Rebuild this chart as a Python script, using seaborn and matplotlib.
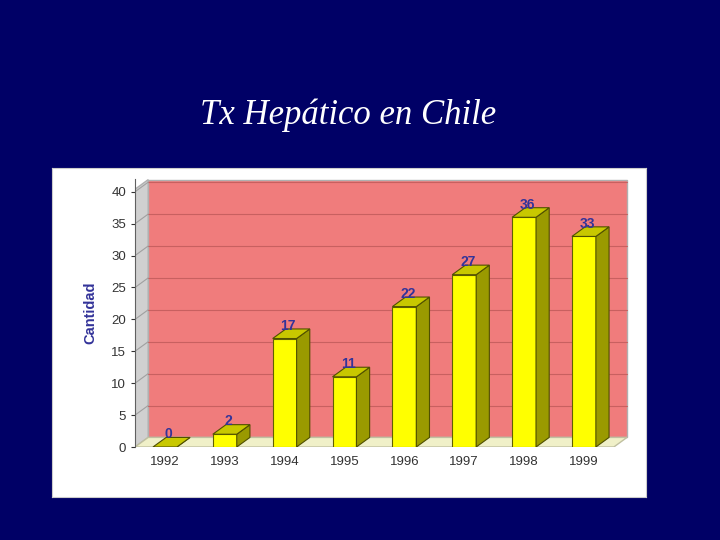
import matplotlib
matplotlib.use("Agg")
import matplotlib.pyplot as plt
import seaborn as sns
import pandas as pd
from matplotlib.patches import Polygon

years = ["1992", "1993", "1994", "1995", "1996", "1997", "1998", "1999"]
values = [0, 2, 17, 11, 22, 27, 36, 33]
yticks = [0, 5, 10, 15, 20, 25, 30, 35, 40]

sns.set_style("white")
plt.rcParams['font.family'] = ['Liberation Sans', 'DejaVu Sans']

fig = plt.figure(figsize=(7.2, 5.4), dpi=100)
fig.patch.set_facecolor("#000066")
fig.text(348/720, 1 - 115/540, "Tx Hepático en Chile", ha="center", va="center",
         fontsize=25, style="italic", color="white", family="Liberation Serif")

panel = fig.add_axes([52/720, 1 - 497/540, 594/720, 329/540])
panel.set_facecolor("white")
panel.set_xticks([]); panel.set_yticks([])
for s in panel.spines.values():
    s.set_color("#cccccc")

ax = fig.add_axes([135/720, 1 - 447/540, 495/720, 268/540])
ax.set_facecolor("none")
dx, dy, w = 0.22, 1.5, 0.4

ax.add_patch(Polygon([(-0.5 + dx, dy), (7.5 + dx, dy), (7.5 + dx, 40 + dy + 0.4), (-0.5 + dx, 40 + dy + 0.4)],
                     closed=True, facecolor="#f07c7c", edgecolor="#b0b0b0", zorder=0))
ax.add_patch(Polygon([(-0.5, 0), (-0.5 + dx, dy), (-0.5 + dx, 40 + dy + 0.4), (-0.5, 40.4)],
                     closed=True, facecolor="#d0d0d0", edgecolor="#b0b0b0", zorder=0))
ax.add_patch(Polygon([(-0.5, 0), (7.5, 0), (7.5 + dx, dy), (-0.5 + dx, dy)],
                     closed=True, facecolor="#f0f0c8", edgecolor="#c0c0a0", zorder=0.5))
for v in yticks[1:]:
    ax.plot([-0.5 + dx, 7.5 + dx], [v + dy, v + dy], color="#c86060", lw=0.8, zorder=0.2)
    ax.plot([-0.5, -0.5 + dx], [v, v + dy], color="#a0a0a0", lw=0.8, zorder=0.2)

df = pd.DataFrame({"year": years, "n": values})
sns.barplot(data=df, x="year", y="n", color="#ffff00", width=w, saturation=1,
            edgecolor="#606000", linewidth=0.8, ax=ax, zorder=2)

for i, v in enumerate(values):
    l, r = i - w/2, i + w/2
    ax.add_patch(Polygon([(r, 0), (r + dx, dy), (r + dx, v + dy), (r, v)], closed=True,
                         facecolor="#9a9a00", edgecolor="#505000", lw=0.8, zorder=3))
    ax.add_patch(Polygon([(l, v), (r, v), (r + dx, v + dy), (l + dx, v + dy)], closed=True,
                         facecolor="#c8c800", edgecolor="#505000", lw=0.8, zorder=3))
    ax.text(i + 0.06, v + dy - 0.6, str(v), ha="center", va="bottom", fontsize=10,
            fontweight="bold", color="#333399", zorder=4)

ax.set_xlim(-0.5, 7.5 + dx + 0.05)
ax.set_ylim(0, 42)
ax.set_yticks(yticks)
ax.tick_params(axis="both", labelsize=9.5, colors="#333333", length=3, left=True)
ax.set_xlabel("")
ax.set_ylabel("Cantidad", fontsize=10.5, fontweight="bold", color="#333399", labelpad=10)
for s in ["top", "right", "bottom"]:
    ax.spines[s].set_visible(False)
ax.spines["left"].set_color("#606060")

fig.savefig("out.png", dpi=100, facecolor=fig.get_facecolor())
